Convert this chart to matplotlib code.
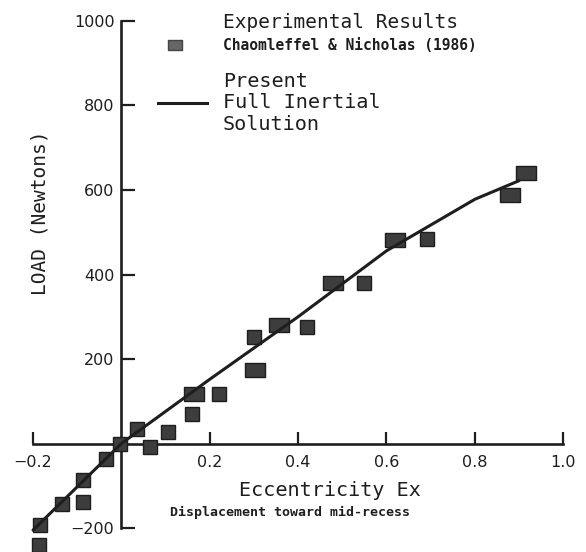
import matplotlib
matplotlib.use("Agg")
import matplotlib.pyplot as plt
from matplotlib.lines import Line2D

# ---- data ----
# experimental results (single-size squares)
exp_x = [-0.184, -0.187, -0.134, -0.087, -0.087, -0.035, -0.003, 0.035, 0.065,
         0.105, 0.160, 0.221, 0.300, 0.420, 0.549, 0.692]
exp_y = [-193, -240, -143, -139, -86, -37, 0, 34, -8,
         27, 70, 117, 252, 276, 380, 483]
# experimental results drawn as wider (overlapping) squares
exp_x_wide = [0.165, 0.302, 0.357, 0.479, 0.619, 0.880, 0.916]
exp_y_wide = [117, 174, 280, 380, 481, 588, 640]
# present full inertial solution
sol_x = [-0.2, 0.0, 0.2, 0.4, 0.6, 0.8, 0.9]
sol_y = [-205, 0, 152, 300, 456, 578, 622]

x_ticks = [-0.2, 0.2, 0.4, 0.6, 0.8, 1.0]
x_labels = ["\u22120.2", "0.2", "0.4", "0.6", "0.8", "1.0"]
y_ticks = [-200, 200, 400, 600, 800, 1000]
y_labels = ["\u2212200", "200", "400", "600", "800", "1000"]

W, H = 586, 552
fig = plt.figure(figsize=(W / 100, H / 100), dpi=100)
ax = fig.add_axes([0, 0, 1, 1])
ax.set_xlim(-0.2748, 1.0516)
ax.set_ylim(-256.8, 1049.7)
ax.patch.set_alpha(0)

ink = "#1e1e1e"
face = "#3d3d3d"
mono = "DejaVu Sans Mono"

# spines through the origin
for s in ("top", "right"):
    ax.spines[s].set_visible(False)
ax.spines["left"].set_position(("data", 0))
ax.spines["bottom"].set_position(("data", 0))
ax.spines["left"].set_bounds(-200, 1000)
ax.spines["bottom"].set_bounds(-0.2, 1.0)
for s in ("left", "bottom"):
    ax.spines[s].set_linewidth(1.9)
    ax.spines[s].set_color(ink)

ax.set_xticks(x_ticks)
ax.set_xticklabels(x_labels)
ax.set_yticks(y_ticks)
ax.set_yticklabels(y_labels)
ax.tick_params(axis="y", direction="in", length=10, width=1.6, color=ink,
               pad=5, labelsize=11.5, labelcolor=ink)
ax.tick_params(axis="x", direction="in", length=8.5, width=1.6, color=ink,
               pad=8, labelsize=11.5, labelcolor=ink)

# markers
wide_marker = [(-1, -0.68), (1, -0.68), (1, 0.68), (-1, 0.68), (-1, -0.68)]
ax.plot(exp_x, exp_y, linestyle="none", marker="s", markersize=10,
        markerfacecolor=face, markeredgecolor=ink, markeredgewidth=1.0, zorder=3)
ax.plot(exp_x_wide, exp_y_wide, linestyle="none", marker=wide_marker,
        markersize=15, markerfacecolor=face, markeredgecolor=ink,
        markeredgewidth=1.0, zorder=3)
ax.plot(sol_x, sol_y, color=ink, linewidth=2.2, zorder=4,
        solid_joinstyle="round", solid_capstyle="round")

# legend (manual, in figure pixels)
def fx(px):
    return px / W

def fy(py):
    return 1 - py / H

fig.add_artist(Line2D([fx(175)], [fy(45)], marker=wide_marker, markersize=10.5,
                      markerfacecolor="#666666", markeredgecolor="#444444",
                      linestyle="none", transform=fig.transFigure))
fig.add_artist(Line2D([fx(158), fx(207)], [fy(103), fy(103)], color=ink,
                      linewidth=2.2, transform=fig.transFigure))
fig.text(fx(223), fy(22), "Experimental Results", family=mono, fontsize=14,
         ha="left", va="center", color=ink)
fig.text(fx(223), fy(45), "Chaomleffel & Nicholas (1986)", family=mono,
         fontsize=10.5, fontweight="bold", ha="left", va="center", color=ink)
fig.text(fx(223), fy(103), "Present\nFull Inertial\nSolution", family=mono,
         fontsize=14.5, ha="left", va="center", linespacing=1.15, color=ink)

# axis titles
fig.text(fx(330), fy(490), "Eccentricity Ex", family=mono, fontsize=14.5,
         ha="center", va="center", color=ink)
fig.text(fx(290), fy(512), "Displacement toward mid-recess", family=mono,
         fontsize=9.5, fontweight="bold", ha="center", va="center", color=ink)
fig.text(fx(40), fy(213), "LOAD (Newtons)", family=mono, fontsize=14,
         rotation=90, ha="center", va="center", color=ink)

fig.savefig("out.png", dpi=100)
